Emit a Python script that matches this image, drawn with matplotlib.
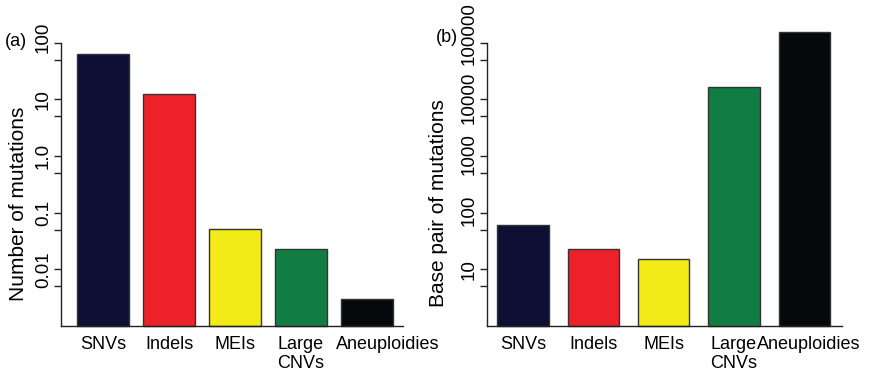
import matplotlib
matplotlib.use("Agg")
from matplotlib import pyplot as plt
from matplotlib import transforms
from matplotlib.ticker import FixedLocator, NullFormatter

plt.rcParams['font.family'] = ['Liberation Sans', 'DejaVu Sans']

# Data
categories = ["SNVs", "Indels", "MEIs", "Large\nCNVs", "Aneuploidies"]
colors = ["#0d1034", "#ec2129", "#f2eb17", "#117d43", "#05090b"]
num_mutations = [64, 12.6, 0.051, 0.023, 0.003]
bp_mutations = [61, 23, 15, 16500, 156000]

left_ticks = [100, 10, 1.0, 0.1, 0.01]
left_tick_labels = ["100", "10", "1.0", "0.1", "0.01"]
left_minor = [50, 5, 0.5, 0.05, 0.005]
right_ticks = [100000, 10000, 1000, 100, 10]
right_tick_labels = ["100000", "10000", "1000", "100", "10"]
right_minor = [50000, 5000, 500, 50, 5]

TICK_FONT = ['Liberation Sans Narrow', 'Liberation Sans', 'DejaVu Sans']


def px(fig, dx, dy):
    # offset in pixels (figure is drawn at 100 dpi)
    return transforms.ScaledTranslation(dx / 100, dy / 100, fig.dpi_scale_trans)


def draw_panel(fig, ax, values, ylim, ticks, tick_labels, minor, width, xlim,
               label_shift_y, last_label_shift_x):
    x = list(range(len(values)))
    ax.bar(x, [v - ylim[0] for v in values], bottom=ylim[0], width=width,
           color=colors, edgecolor="#333333", linewidth=1.0, clip_on=False)
    ax.set_yscale("log")
    ax.set_ylim(*ylim)
    ax.set_xlim(*xlim)

    # y axis: ticks from the locator, labels drawn by hand (rotated like R)
    ax.yaxis.set_major_locator(FixedLocator(ticks))
    ax.yaxis.set_major_formatter(NullFormatter())
    ax.yaxis.set_minor_locator(FixedLocator(minor))
    ax.yaxis.set_minor_formatter(NullFormatter())
    ax.tick_params(axis="y", which="both", length=5, width=1, color="#222222")
    ytrans = transforms.blended_transform_factory(ax.transAxes, ax.transData)
    for val, lab, dy in zip(ticks, tick_labels, label_shift_y):
        ax.text(0, val, lab, transform=ytrans + px(fig, -9, dy), rotation=90,
                ha="right", va="center", fontsize=13.5, family=TICK_FONT)

    # x axis: labels drawn by hand so single ones can be nudged
    ax.set_xticks([])
    xtrans = transforms.blended_transform_factory(ax.transData, ax.transAxes)
    for i, lab in enumerate(categories):
        dx = last_label_shift_x if i == len(categories) - 1 else 0
        ax.text(i, 0, lab, transform=xtrans + px(fig, dx, -10), ha="center",
                va="top", fontsize=13, linespacing=1.15)

    ax.spines["top"].set_visible(False)
    ax.spines["right"].set_visible(False)
    for side in ("left", "bottom"):
        ax.spines[side].set_linewidth(1.0)
        ax.spines[side].set_color("#222222")


fig = plt.figure(figsize=(8.73, 3.71), dpi=100)

ax1 = fig.add_axes([0.0699, 0.1213, 0.3918, 0.7636])
draw_panel(fig, ax1, num_mutations, (0.001, 100), left_ticks, left_tick_labels,
           left_minor, 0.78, (-0.64, 4.55), [5, 0, 0, 0, 0], 21)

ax2 = fig.add_axes([0.5575, 0.1213, 0.4066, 0.7636])
draw_panel(fig, ax2, bp_mutations, (1, 100000), right_ticks, right_tick_labels,
           right_minor, 0.73, (-0.515, 4.53), [9, 2, 2, 2, 0], 4)

# Axis titles and panel letters
fig.text(18.5 / 873, 1 - 204 / 371, "Number of mutations", rotation=90,
         ha="center", va="center", fontsize=15)
fig.text(438.5 / 873, 1 - 203 / 371, "Base pair of mutations", rotation=90,
         ha="center", va="center", fontsize=15)
fig.text(5 / 873, 1 - 41 / 371, "(a)", ha="left", va="center", fontsize=13)
fig.text(436 / 873, 1 - 38 / 371, "(b)", ha="left", va="center", fontsize=13)

plt.savefig("out.png", dpi=100)
